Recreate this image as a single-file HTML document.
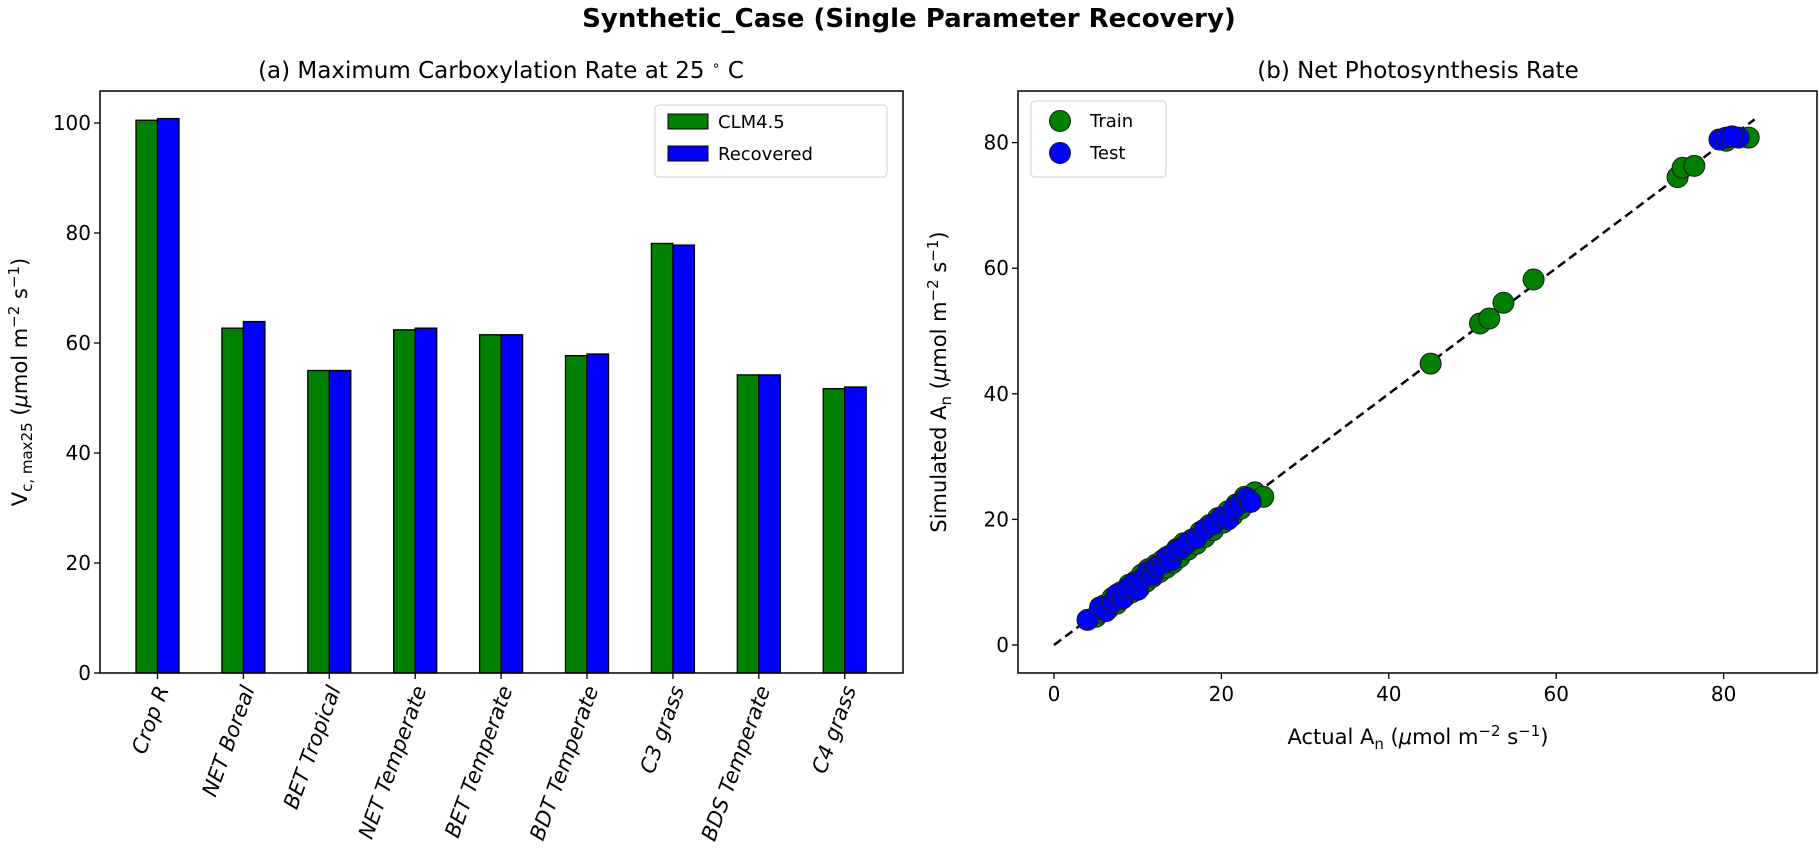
<!DOCTYPE html>
<html><head><meta charset="utf-8"><style>
body{margin:0;background:#fff;}
svg{display:block;font-family:"DejaVu Sans","Liberation Sans",sans-serif;}
</style></head><body>
<svg id="fig" width="1819" height="867" viewBox="0 0 1819 867" xmlns="http://www.w3.org/2000/svg">
<text x="909" y="27" text-anchor="middle" font-size="26" font-weight="bold">Synthetic_Case (Single Parameter Recovery)</text>
<text x="501" y="78" text-anchor="middle" font-size="23">(a) Maximum Carboxylation Rate at 25 <tspan font-size="14" dy="-8">∘</tspan><tspan dy="8"> C</tspan></text>
<text x="1418" y="78" text-anchor="middle" font-size="23">(b) Net Photosynthesis Rate</text>
<g id="left"></g>
<g id="right"></g>
<text transform="translate(27,382) rotate(-90)" text-anchor="middle" font-size="21">V<tspan font-size="15" dy="5">c, max25</tspan><tspan dy="-5"> (</tspan><tspan font-style="italic">μ</tspan>mol m<tspan font-size="15" dy="-8">−2</tspan><tspan dy="8"> s</tspan><tspan font-size="15" dy="-8">−1</tspan><tspan dy="8">)</tspan></text>
<text transform="translate(946,382) rotate(-90)" text-anchor="middle" font-size="21">Simulated A<tspan font-size="15" dy="5">n</tspan><tspan dy="-5"> (</tspan><tspan font-style="italic">μ</tspan>mol m<tspan font-size="15" dy="-8">−2</tspan><tspan dy="8"> s</tspan><tspan font-size="15" dy="-8">−1</tspan><tspan dy="8">)</tspan></text>
<text x="1418" y="744" text-anchor="middle" font-size="21">Actual A<tspan font-size="15" dy="5">n</tspan><tspan dy="-5"> (</tspan><tspan font-style="italic">μ</tspan>mol m<tspan font-size="15" dy="-8">−2</tspan><tspan dy="8"> s</tspan><tspan font-size="15" dy="-8">−1</tspan><tspan dy="8">)</tspan></text>
</svg>
<script>
const categories=["Crop R","NET Boreal","BET Tropical","NET Temperate","BET Temperate","BDT Temperate","C3 grass","BDS Temperate","C4 grass"];
const clmValues=[100.5,62.7,55,62.4,61.5,57.7,78.1,54.2,51.7];
const recoveredValues=[100.8,63.9,55,62.7,61.5,58,77.8,54.2,52];
const leftYTicks=[0,20,40,60,80,100];
const trainX=[5,5.5,6,6.5,7,7.5,8,8.5,9,9.3,9.8,10.2,10.5,11,11.3,11.8,12.2,12.6,13,13.4,13.8,14.2,14.7,15,15.5,16,16.5,17,17.5,18,18.6,19,19.6,20.2,20.8,21.3,21.8,22.3,22.8,23.5,24,25,45,50.9,52,53.7,57.3,74.5,75.1,76.5,80.3,83];
const trainY=[4.5,5.2,6.3,5.8,7.5,6.6,8.4,7.8,9.6,8.4,10.2,9.1,11.2,10.1,12.1,10.9,12.8,11.6,13.5,12.3,14.2,13.1,15.3,14,16.2,15.2,16.8,16.1,18,17.2,19.1,18.3,20.2,19.5,21.3,20.6,22.4,21.7,23.6,22.8,24.3,23.6,44.8,51.2,52,54.5,58.2,74.5,76,76.3,80.3,80.8];
const testX=[4,5.5,6.2,7,7.5,8.2,8.8,9.5,10,10.5,11.2,11.8,12.3,13,13.5,14,14.6,15.2,16,17,18,19,20,20.8,21.5,22.3,23,23.5,79.5,80.3,81.8,81];
const testY=[4,6,5.4,6.8,8,7.4,9,9.8,8.8,10.5,11.6,11.2,12.5,13,14,13.5,15,15.4,16.3,17,18.4,19.2,20.3,20,21.8,22.6,23.4,22.8,80.5,80.8,80.8,81];
const rightXTicks=[0,20,40,60,80];
const rightYTicks=[0,20,40,60,80];
const NS="http://www.w3.org/2000/svg";
function mk(parent,tag,attrs,name,inter){const e=document.createElementNS(NS,tag);for(const k in attrs)e.setAttribute(k,attrs[k]);


parent.appendChild(e);return e;}
// left chart
const L=document.getElementById('left');
const lx0=100,lx1=903,ly0=91,ly1=673;
const ly=v=>673-v*5.5;
const cx=i=>157.5+i*85.9;
const bw=21.5;
categories.forEach((c,i)=>{
 mk(L,'rect',{x:cx(i)-bw,y:ly(clmValues[i]),width:bw,height:ly(0)-ly(clmValues[i]),fill:'#008000',stroke:'#000','stroke-width':1.3},'bar-clm45-'+i,false);
 mk(L,'rect',{x:cx(i),y:ly(recoveredValues[i]),width:bw,height:ly(0)-ly(recoveredValues[i]),fill:'#0000ff',stroke:'#000','stroke-width':1.3},'bar-recovered-'+i,false);
 mk(L,'line',{x1:cx(i),x2:cx(i),y1:ly1,y2:ly1+6,stroke:'#000','stroke-width':1.3},'x-tick',false);
 const t=mk(L,'text',{transform:`translate(${cx(i)+6},${ly1+14}) rotate(-70)`,'text-anchor':'end','font-size':21,'font-style':'italic','dominant-baseline':'middle'},'x-tick-label',false);t.textContent=c;
});
leftYTicks.forEach(v=>{
 mk(L,'line',{x1:lx0-6,x2:lx0,y1:ly(v),y2:ly(v),stroke:'#000','stroke-width':1.3},'y-tick',false);
 const t=mk(L,'text',{x:lx0-9,y:ly(v)+7,'text-anchor':'end','font-size':20},'y-tick-label',false);t.textContent=v;
});
mk(L,'rect',{x:lx0,y:ly0,width:lx1-lx0,height:ly1-ly0,fill:'none',stroke:'#000','stroke-width':1.5},'left-plot-frame',false);
const lg=mk(L,'g',{},'left-legend',false);
mk(lg,'rect',{x:655,y:105,width:232,height:72,rx:4,fill:'#fff',stroke:'#ccc'},'legend-box',false);
mk(lg,'rect',{x:668,y:114,width:40,height:15,fill:'#008000',stroke:'#000'},'legend-swatch-clm45',false);
mk(lg,'rect',{x:668,y:146,width:40,height:15,fill:'#0000ff',stroke:'#000'},'legend-swatch-recovered',false);
let t1=mk(lg,'text',{x:718,y:128,'font-size':18},'legend-label-clm45',false);t1.textContent='CLM4.5';
let t2=mk(lg,'text',{x:718,y:160,'font-size':18},'legend-label-recovered',false);t2.textContent='Recovered';
// right chart
const R=document.getElementById('right');
const rx0=1018,rx1=1817,ry0=91,ry1=673;
const sx=v=>1054+v*8.37, sy=v=>645-v*6.28;
rightXTicks.forEach(v=>{
 mk(R,'line',{x1:sx(v),x2:sx(v),y1:ry1,y2:ry1+6,stroke:'#000','stroke-width':1.3},'x-tick',false);
 const t=mk(R,'text',{x:sx(v),y:ry1+28,'text-anchor':'middle','font-size':20},'x-tick-label',false);t.textContent=v;
});
rightYTicks.forEach(v=>{
 mk(R,'line',{x1:rx0-6,x2:rx0,y1:sy(v),y2:sy(v),stroke:'#000','stroke-width':1.3},'y-tick',false);
 const t=mk(R,'text',{x:rx0-9,y:sy(v)+7,'text-anchor':'end','font-size':20},'y-tick-label',false);t.textContent=v;
});
mk(R,'line',{x1:sx(0),y1:sy(0),x2:sx(83.7),y2:sy(83.7),stroke:'#000','stroke-width':2.5,'stroke-dasharray':'9,5'},'one-to-one-line',false);
trainX.forEach((x,i)=>mk(R,'circle',{cx:sx(x),cy:sy(trainY[i]),r:10.5,fill:'#008000',stroke:'#1a1a1a','stroke-width':1},'train-point',false));
testX.forEach((x,i)=>mk(R,'circle',{cx:sx(x),cy:sy(testY[i]),r:10.5,fill:'#0000ff',stroke:'#1a1a1a','stroke-width':1},'test-point',false));
mk(R,'rect',{x:rx0,y:ry0,width:rx1-rx0,height:ry1-ry0,fill:'none',stroke:'#000','stroke-width':1.5},'right-plot-frame',false);
const rg=mk(R,'g',{},'right-legend',false);
mk(rg,'rect',{x:1031,y:101,width:135,height:76,rx:4,fill:'#fff',stroke:'#ccc'},'legend-box',false);
mk(rg,'circle',{cx:1060,cy:121,r:10.5,fill:'#008000',stroke:'#1a1a1a'},'legend-marker-train',false);
mk(rg,'circle',{cx:1060,cy:153,r:10.5,fill:'#0000ff',stroke:'#1a1a1a'},'legend-marker-test',false);
let t3=mk(rg,'text',{x:1090,y:127,'font-size':18},'legend-label-train',false);t3.textContent='Train';
let t4=mk(rg,'text',{x:1090,y:159,'font-size':18},'legend-label-test',false);t4.textContent='Test';
</script>
</body></html>
